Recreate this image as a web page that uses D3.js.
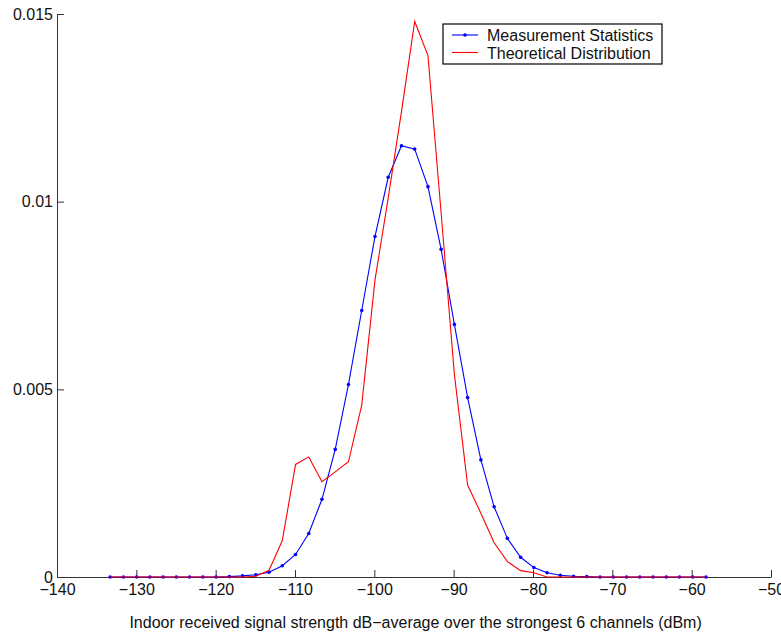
<!DOCTYPE html>
<html>
  <head>
    <meta charset="utf-8">
    <title>Indoor received signal strength</title>
    <script src="https://d3js.org/d3.v7.min.js"></script>
    <style>
      body { margin: 0; background: #fff; }
      svg { display: block; font-family: "Liberation Sans", Arial, sans-serif; }
      .axis path, .axis line { stroke: #333; }
      .axis text { font-size: 16px; fill: #111; }
    </style>
  </head>
  <body>
    <svg id="chart" width="781" height="634"></svg>
    <script>
      // bin centres (dBm)
      var bins = [-133.30, -131.63, -129.96, -128.29, -126.62, -124.96, -123.29, -121.62, -119.95, -118.28,
        -116.61, -114.94, -113.27, -111.60, -109.93, -108.27, -106.60, -104.93, -103.26, -101.59,
        -99.92, -98.25, -96.58, -94.91, -93.24, -91.58, -89.91, -88.24, -86.57, -84.90,
        -83.23, -81.56, -79.89, -78.22, -76.55, -74.89, -73.22, -71.55, -69.88, -68.21,
        -66.54, -64.87, -63.20, -61.53, -59.86, -58.19];
      var measured = [0, 0, 0, 0, 0, 0, 0, 0, 0, 0.00001,
        0.00003, 0.00006, 0.000125, 0.0003, 0.0006, 0.00116, 0.00207, 0.0034, 0.00513, 0.0071,
        0.00907, 0.01065, 0.01149, 0.0114, 0.0104, 0.00873, 0.00673, 0.00478, 0.00312, 0.00187,
        0.00103, 0.000525, 0.00025, 0.000115, 0.000045, 0.00002, 0.00001, 0, 0, 0,
        0, 0, 0, 0, 0, 0];
      var theoretical = [0, 0, 0, 0, 0, 0, 0, 0, 0, 0,
        0, 0.00002, 0.00018, 0.00097, 0.0030, 0.0032, 0.00254, 0.0028, 0.00307, 0.00458,
        0.00791, 0.0101, 0.0124, 0.0148, 0.01389, 0.0097, 0.0054, 0.00245, 0.0017, 0.00091,
        0.00041, 0.00017, 0.000115, 0, 0, 0, 0, 0, 0, 0,
        0, 0, 0, 0, 0, 0];
      var xTicks = [-140, -130, -120, -110, -100, -90, -80, -70, -60, -50];
      var yTicks = [0, 0.005, 0.01, 0.015];
      var yTickLabels = ["0", "0.005", "0.01", "0.015"];
      var seriesNames = ["Measurement Statistics", "Theoretical Distribution"];

      var chart = d3.select("#chart");
      var margin = { top: 14, right: 10, bottom: 57, left: 57 };
      var width = 781, height = 634;

      var x = d3.scaleLinear()
        .domain([-140, -50])
        .range([margin.left, width - margin.right]);
      var y = d3.scaleLinear()
        .domain([0, 0.015])
        .range([height - margin.bottom, margin.top]);

      // axes, MATLAB style: ticks point inwards
      var xAxis = d3.axisBottom(x)
        .tickValues(xTicks)
        .tickSizeInner(-7)
        .tickSizeOuter(0)
        .tickPadding(7)
        .tickFormat(function(d) { return d < 0 ? "\u2212" + Math.abs(d) : d; });
      var yAxis = d3.axisLeft(y)
        .tickValues(yTicks)
        .tickSizeInner(-7)
        .tickSizeOuter(0)
        .tickPadding(4)
        .tickFormat(function(d, i) { return yTickLabels[i]; });

      chart.append("g")
        .attr("class", "axis")
        .attr("transform", "translate(0," + y(0) + ")")
        .call(xAxis);
      chart.append("g")
        .attr("class", "axis")
        .attr("transform", "translate(" + x(-140) + ",0)")
        .call(yAxis);

      chart.append("text")
        .attr("x", x(-94.8))
        .attr("y", 628)
        .attr("text-anchor", "middle")
        .style("font-size", "16px")
        .style("fill", "#111")
        .text("Indoor received signal strength dB\u2212average over the strongest 6 channels (dBm)");

      var rows = bins.map(function(b, i) {
        return { x: b, m: measured[i], t: theoretical[i] };
      });

      var lineM = d3.line()
        .x(function(d) { return x(d.x); })
        .y(function(d) { return y(d.m); });
      var lineT = d3.line()
        .x(function(d) { return x(d.x); })
        .y(function(d) { return y(d.t); });

      chart.append("path")
        .attr("d", lineM(rows))
        .attr("fill", "none")
        .attr("stroke", "#0000ff")
        .attr("stroke-width", 1.1);
      chart.selectAll(".pt")
        .data(rows)
        .enter().append("circle")
          .attr("class", "pt")
          .attr("cx", function(d) { return x(d.x); })
          .attr("cy", function(d) { return y(d.m); })
          .attr("r", 1.8)
          .attr("fill", "#0000ff");
      chart.append("path")
        .attr("d", lineT(rows))
        .attr("fill", "none")
        .attr("stroke", "#ff0000")
        .attr("stroke-width", 1.1);

      // legend
      var legend = chart.append("g").attr("transform", "translate(443,24)");
      legend.append("rect")
        .attr("width", 219)
        .attr("height", 40)
        .attr("fill", "#fff")
        .attr("stroke", "#000")
        .attr("stroke-width", 1.2);
      var colors = ["#0000ff", "#ff0000"];
      seriesNames.forEach(function(name, i) {
        var ly = 11 + i * 17.5;
        legend.append("line")
          .attr("x1", 9).attr("x2", 35)
          .attr("y1", ly).attr("y2", ly)
          .attr("stroke", colors[i])
          .attr("stroke-width", 1.1);
        if (i === 0) {
          legend.append("circle")
            .attr("cx", 22).attr("cy", ly).attr("r", 1.8)
            .attr("fill", colors[i]);
        }
        legend.append("text")
          .attr("x", 44)
          .attr("y", ly + 6)
          .style("font-size", "16px")
          .style("fill", "#111")
          .text(name);
      });
    </script>
  </body>
</html>
